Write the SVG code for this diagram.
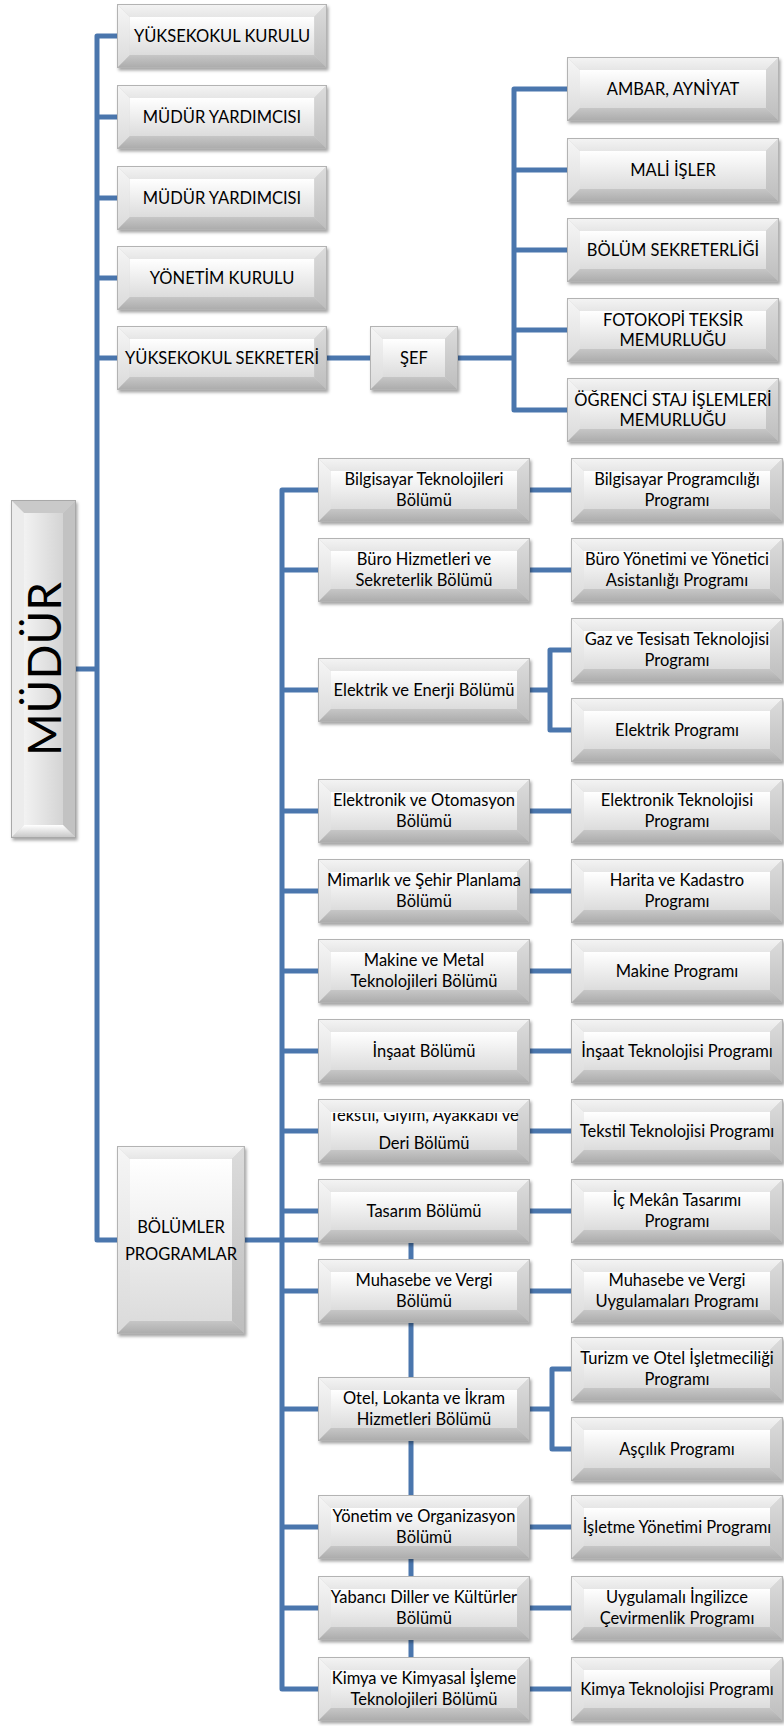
<svg xmlns="http://www.w3.org/2000/svg" xmlns:xlink="http://www.w3.org/1999/xlink" width="784" height="1726" viewBox="0 0 784 1726">
<style>
.ln{fill:none;stroke:#4a76ad;stroke-width:5;stroke-linejoin:round;stroke-linecap:butt}
.t{font-family:Lato,"Open Sans","Liberation Sans",sans-serif;font-size:16.5px;fill:#000;text-anchor:middle}
.big{font-size:46px}
</style>
<defs>
<linearGradient id="gTop" x1="0" y1="0" x2="0" y2="1"><stop offset="0" stop-color="#f4f4f4"/><stop offset="1" stop-color="#e6e6e6"/></linearGradient>
<linearGradient id="gLeft" x1="0" y1="0" x2="0" y2="1"><stop offset="0" stop-color="#f6f6f6"/><stop offset="1" stop-color="#dadada"/></linearGradient>
<linearGradient id="gRight" x1="0" y1="0" x2="0" y2="1"><stop offset="0" stop-color="#dcdcdc"/><stop offset="1" stop-color="#bdbdbd"/></linearGradient>
<linearGradient id="gBot" x1="0" y1="0" x2="0" y2="1"><stop offset="0" stop-color="#c6c6c6"/><stop offset="1" stop-color="#ababab"/></linearGradient>
<linearGradient id="gFace" x1="0" y1="0" x2="0" y2="1"><stop offset="0" stop-color="#ffffff"/><stop offset="1" stop-color="#dcdcdc"/></linearGradient>
<linearGradient id="gFaceH" x1="0" y1="0" x2="1" y2="0"><stop offset="0" stop-color="#f2f2f2"/><stop offset="1" stop-color="#d4d4d4"/></linearGradient>
<linearGradient id="gBotM" x1="0" y1="0" x2="0" y2="1"><stop offset="0" stop-color="#ffffff"/><stop offset="1" stop-color="#c4c4c4"/></linearGradient>
<filter id="sh" x="-5%" y="-5%" width="115%" height="125%"><feDropShadow dx="1.5" dy="2.5" stdDeviation="1.5" flood-color="#000" flood-opacity="0.35"/></filter>
<symbol id="bx" viewBox="0 0 212 64" preserveAspectRatio="none">
<rect width="212" height="64" fill="#d0d0d0"/>
<polygon points="0,0 212,0 199,13 13,13" fill="url(#gTop)"/>
<polygon points="0,0 13,13 13,51 0,64" fill="url(#gLeft)"/>
<polygon points="212,0 212,64 199,51 199,13" fill="url(#gRight)"/>
<polygon points="0,64 13,51 199,51 212,64" fill="url(#gBot)"/>
<rect x="13" y="13" width="186" height="38" fill="url(#gFace)"/>
<rect x="0.5" y="0.5" width="211" height="63" fill="none" stroke="#b3b3b3"/>
</symbol>
<clipPath id="clipTek"><rect x="300" y="1113" width="260" height="60"/></clipPath>
</defs>
<rect width="784" height="1726" fill="#ffffff"/>

<g id="connectors">
<path class="ln" d="M117 36 H97 V1240 H117"/>
<path class="ln" d="M97 117 H117 M97 198 H117 M97 278 H117 M97 358 H117 M76 669 H97"/>
<path class="ln" d="M327 358 H370 M458 358 H514"/>
<path class="ln" d="M567 89 H514 V410 H567"/>
<path class="ln" d="M514 170 H567 M514 250 H567 M514 330 H567"/>
<path class="ln" d="M245 1240 H318"/>
<path class="ln" d="M318 490 H282 V1689 H318"/>
<path class="ln" d="M282 570 H318 M282 690 H318 M282 811 H318 M282 891 H318 M282 971 H318 M282 1051 H318 M282 1131 H318 M282 1211 H318 M282 1291 H318 M282 1409 H318 M282 1527 H318 M282 1608 H318"/>
<path class="ln" d="M411 1243 V1657"/>
<path class="ln" d="M530 490 H571 M530 570 H571 M530 811 H571 M530 891 H571 M530 971 H571 M530 1051 H571 M530 1131 H571 M530 1211 H571 M530 1291 H571 M530 1527 H571 M530 1608 H571 M530 1689 H571"/>
<path class="ln" d="M571 650 H550 V730 H571 M530 690 H550"/>
<path class="ln" d="M571 1369 H552 V1449 H571 M530 1409 H552"/>
</g>

<g id="mudur">
<g filter="url(#sh)">
<rect x="11" y="500" width="65" height="338" fill="#d6d6d6"/>
<polygon points="11,500 76,500 63,513 24,513" fill="#c9c9c9"/>
<polygon points="11,500 24,513 24,825 11,838" fill="#ececec"/>
<polygon points="76,500 76,838 63,825 63,513" fill="#c2c2c2"/>
<polygon points="11,838 24,825 63,825 76,838" fill="url(#gBotM)"/>
<rect x="24" y="513" width="39" height="312" fill="url(#gFaceH)"/>
<rect x="11.5" y="500.5" width="64" height="337" fill="none" stroke="#a8a8a8"/>
</g>
<text class="t big" transform="translate(61,669) rotate(-90)">MÜDÜR</text>
</g>

<g id="n_kurul"><use href="#bx" x="117" y="4" width="210" height="64" filter="url(#sh)"/><text class="t" x="222" y="42">YÜKSEKOKUL KURULU</text></g>
<g id="n_my1"><use href="#bx" x="117" y="85" width="210" height="64" filter="url(#sh)"/><text class="t" x="222" y="123">MÜDÜR YARDIMCISI</text></g>
<g id="n_my2"><use href="#bx" x="117" y="166" width="210" height="64" filter="url(#sh)"/><text class="t" x="222" y="204">MÜDÜR YARDIMCISI</text></g>
<g id="n_yk"><use href="#bx" x="117" y="246" width="210" height="64" filter="url(#sh)"/><text class="t" x="222" y="284">YÖNETİM KURULU</text></g>
<g id="n_ys"><use href="#bx" x="117" y="326" width="210" height="64" filter="url(#sh)"/><text class="t" x="222" y="364">YÜKSEKOKUL SEKRETERİ</text></g>

<g id="n_sef">
<g filter="url(#sh)">
<rect x="370" y="326" width="88" height="64" fill="#d0d0d0"/>
<polygon points="370,326 458,326 445,339 383,339" fill="url(#gTop)"/>
<polygon points="370,326 383,339 383,377 370,390" fill="url(#gLeft)"/>
<polygon points="458,326 458,390 445,377 445,339" fill="url(#gRight)"/>
<polygon points="370,390 383,377 445,377 458,390" fill="url(#gBot)"/>
<rect x="383" y="339" width="62" height="38" fill="url(#gFace)"/>
<rect x="370.5" y="326.5" width="87" height="63" fill="none" stroke="#b3b3b3"/>
</g>
<text class="t" x="414" y="364">ŞEF</text>
</g>

<g id="n_ambar"><use href="#bx" x="567" y="57" width="212" height="64" filter="url(#sh)"/><text class="t" x="673" y="95">AMBAR, AYNİYAT</text></g>
<g id="n_mali"><use href="#bx" x="567" y="138" width="212" height="64" filter="url(#sh)"/><text class="t" x="673" y="176">MALİ İŞLER</text></g>
<g id="n_bsek"><use href="#bx" x="567" y="218" width="212" height="64" filter="url(#sh)"/><text class="t" x="673" y="256">BÖLÜM SEKRETERLİĞİ</text></g>
<g id="n_foto"><use href="#bx" x="567" y="298" width="212" height="64" filter="url(#sh)"/><text class="t" x="673" y="326">FOTOKOPİ TEKSİR</text><text class="t" x="673" y="346">MEMURLUĞU</text></g>
<g id="n_staj"><use href="#bx" x="567" y="378" width="212" height="64" filter="url(#sh)"/><text class="t" x="673" y="406">ÖĞRENCİ STAJ İŞLEMLERİ</text><text class="t" x="673" y="426">MEMURLUĞU</text></g>

<g id="bolumler">
<g filter="url(#sh)">
<rect x="117" y="1146" width="128" height="188" fill="#d0d0d0"/>
<polygon points="117,1146 245,1146 232,1159 130,1159" fill="url(#gTop)"/>
<polygon points="117,1146 130,1159 130,1321 117,1334" fill="url(#gLeft)"/>
<polygon points="245,1146 245,1334 232,1321 232,1159" fill="url(#gRight)"/>
<polygon points="117,1334 130,1321 232,1321 245,1334" fill="url(#gBot)"/>
<rect x="130" y="1159" width="102" height="162" fill="url(#gFace)"/>
<rect x="117.5" y="1146.5" width="127" height="187" fill="none" stroke="#b3b3b3"/>
</g>
<text class="t" x="181" y="1233">BÖLÜMLER</text>
<text class="t" x="181" y="1260">PROGRAMLAR</text>
</g>

<g id="b_bilg"><use href="#bx" x="318" y="458" width="212" height="64" filter="url(#sh)"/><text class="t" x="424" y="485">Bilgisayar Teknolojileri</text><text class="t" x="424" y="506">Bölümü</text></g>
<g id="p_bilg"><use href="#bx" x="571" y="458" width="212" height="64" filter="url(#sh)"/><text class="t" x="677" y="485">Bilgisayar Programcılığı</text><text class="t" x="677" y="506">Programı</text></g>

<g id="b_buro"><use href="#bx" x="318" y="538" width="212" height="64" filter="url(#sh)"/><text class="t" x="424" y="565">Büro Hizmetleri ve</text><text class="t" x="424" y="586">Sekreterlik Bölümü</text></g>
<g id="p_buro"><use href="#bx" x="571" y="538" width="212" height="64" filter="url(#sh)"/><text class="t" x="677" y="565">Büro Yönetimi ve Yönetici</text><text class="t" x="677" y="586">Asistanlığı Programı</text></g>

<g id="b_elek"><use href="#bx" x="318" y="658" width="212" height="64" filter="url(#sh)"/><text class="t" x="424" y="696">Elektrik ve Enerji Bölümü</text></g>
<g id="p_gaz"><use href="#bx" x="571" y="618" width="212" height="64" filter="url(#sh)"/><text class="t" x="677" y="645">Gaz ve Tesisatı Teknolojisi</text><text class="t" x="677" y="666">Programı</text></g>
<g id="p_elek"><use href="#bx" x="571" y="698" width="212" height="64" filter="url(#sh)"/><text class="t" x="677" y="736">Elektrik Programı</text></g>

<g id="b_elo"><use href="#bx" x="318" y="779" width="212" height="64" filter="url(#sh)"/><text class="t" x="424" y="806">Elektronik ve Otomasyon</text><text class="t" x="424" y="827">Bölümü</text></g>
<g id="p_elo"><use href="#bx" x="571" y="779" width="212" height="64" filter="url(#sh)"/><text class="t" x="677" y="806">Elektronik Teknolojisi</text><text class="t" x="677" y="827">Programı</text></g>

<g id="b_mim"><use href="#bx" x="318" y="859" width="212" height="64" filter="url(#sh)"/><text class="t" x="424" y="886">Mimarlık ve Şehir Planlama</text><text class="t" x="424" y="907">Bölümü</text></g>
<g id="p_har"><use href="#bx" x="571" y="859" width="212" height="64" filter="url(#sh)"/><text class="t" x="677" y="886">Harita ve Kadastro</text><text class="t" x="677" y="907">Programı</text></g>

<g id="b_mak"><use href="#bx" x="318" y="939" width="212" height="64" filter="url(#sh)"/><text class="t" x="424" y="966">Makine ve Metal</text><text class="t" x="424" y="987">Teknolojileri Bölümü</text></g>
<g id="p_mak"><use href="#bx" x="571" y="939" width="212" height="64" filter="url(#sh)"/><text class="t" x="677" y="977">Makine Programı</text></g>

<g id="b_ins"><use href="#bx" x="318" y="1019" width="212" height="64" filter="url(#sh)"/><text class="t" x="424" y="1057">İnşaat Bölümü</text></g>
<g id="p_ins"><use href="#bx" x="571" y="1019" width="212" height="64" filter="url(#sh)"/><text class="t" x="677" y="1057">İnşaat Teknolojisi Programı</text></g>

<g id="b_tek"><use href="#bx" x="318" y="1099" width="212" height="64" filter="url(#sh)"/><text class="t" x="424" y="1121" clip-path="url(#clipTek)">Tekstil, Giyim, Ayakkabı ve</text><text class="t" x="424" y="1149">Deri Bölümü</text></g>
<g id="p_tek"><use href="#bx" x="571" y="1099" width="212" height="64" filter="url(#sh)"/><text class="t" x="677" y="1137">Tekstil Teknolojisi Programı</text></g>

<g id="b_tas"><use href="#bx" x="318" y="1179" width="212" height="64" filter="url(#sh)"/><text class="t" x="424" y="1217">Tasarım Bölümü</text></g>
<g id="p_tas"><use href="#bx" x="571" y="1179" width="212" height="64" filter="url(#sh)"/><text class="t" x="677" y="1206">İç Mekân Tasarımı</text><text class="t" x="677" y="1227">Programı</text></g>

<g id="b_muh"><use href="#bx" x="318" y="1259" width="212" height="64" filter="url(#sh)"/><text class="t" x="424" y="1286">Muhasebe ve Vergi</text><text class="t" x="424" y="1307">Bölümü</text></g>
<g id="p_muh"><use href="#bx" x="571" y="1259" width="212" height="64" filter="url(#sh)"/><text class="t" x="677" y="1286">Muhasebe ve Vergi</text><text class="t" x="677" y="1307">Uygulamaları Programı</text></g>

<g id="b_otel"><use href="#bx" x="318" y="1377" width="212" height="64" filter="url(#sh)"/><text class="t" x="424" y="1404">Otel, Lokanta ve İkram</text><text class="t" x="424" y="1425">Hizmetleri Bölümü</text></g>
<g id="p_tur"><use href="#bx" x="571" y="1337" width="212" height="64" filter="url(#sh)"/><text class="t" x="677" y="1364">Turizm ve Otel İşletmeciliği</text><text class="t" x="677" y="1385">Programı</text></g>
<g id="p_asc"><use href="#bx" x="571" y="1417" width="212" height="64" filter="url(#sh)"/><text class="t" x="677" y="1455">Aşçılık Programı</text></g>

<g id="b_yon"><use href="#bx" x="318" y="1495" width="212" height="64" filter="url(#sh)"/><text class="t" x="424" y="1522">Yönetim ve Organizasyon</text><text class="t" x="424" y="1543">Bölümü</text></g>
<g id="p_isl"><use href="#bx" x="571" y="1495" width="212" height="64" filter="url(#sh)"/><text class="t" x="677" y="1533">İşletme Yönetimi Programı</text></g>

<g id="b_yab"><use href="#bx" x="318" y="1576" width="212" height="64" filter="url(#sh)"/><text class="t" x="424" y="1603">Yabancı Diller ve Kültürler</text><text class="t" x="424" y="1624">Bölümü</text></g>
<g id="p_ing"><use href="#bx" x="571" y="1576" width="212" height="64" filter="url(#sh)"/><text class="t" x="677" y="1603">Uygulamalı İngilizce</text><text class="t" x="677" y="1624">Çevirmenlik Programı</text></g>

<g id="b_kim"><use href="#bx" x="318" y="1657" width="212" height="64" filter="url(#sh)"/><text class="t" x="424" y="1684">Kimya ve Kimyasal İşleme</text><text class="t" x="424" y="1705">Teknolojileri Bölümü</text></g>
<g id="p_kim"><use href="#bx" x="571" y="1657" width="212" height="64" filter="url(#sh)"/><text class="t" x="677" y="1695">Kimya Teknolojisi Programı</text></g>
</svg>
